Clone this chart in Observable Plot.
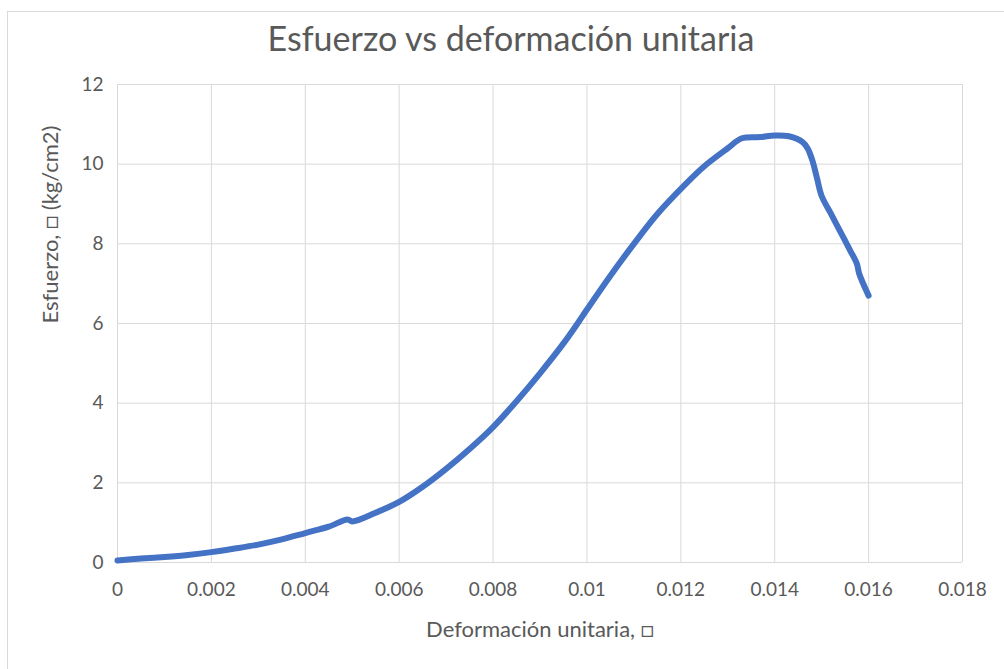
<!DOCTYPE html>
<html>
<head>
<meta charset="utf-8">
<script src="https://cdn.jsdelivr.net/npm/d3@7"></script>
<script src="https://cdn.jsdelivr.net/npm/@observablehq/plot@0.6"></script>
<style>
  html, body { margin: 0; padding: 0; background: #fff; overflow: hidden; }
  #wrap { position: relative; width: 1004px; height: 669px; overflow: hidden; font-family: Lato, "Open Sans", sans-serif; }
  #border { position: absolute; left: 7px; top: 11px; width: 1020px; height: 700px; border: 1px solid #d9d9d9; box-sizing: border-box; }
  #title { position: absolute; left: 0; top: 16px; width: 1022px; text-align: center; font-size: 34px; color: #595959; line-height: 44px; }
  #chart { position: absolute; left: 0; top: 60px; }
</style>
</head>
<body>
<div id="wrap">
  <div id="border"></div>
  <div id="title">Esfuerzo vs deformación unitaria</div>
  <div id="chart"></div>
</div>
<script>
const strain = [0, 0.0005, 0.001, 0.0015, 0.002, 0.0025, 0.003, 0.0035, 0.004, 0.0045, 0.0049, 0.005, 0.0055, 0.006, 0.0065, 0.007, 0.0075, 0.008, 0.0085, 0.009, 0.0095, 0.0098, 0.01, 0.0105, 0.011, 0.0115, 0.0121, 0.0125, 0.013, 0.0133, 0.0137, 0.014, 0.0143, 0.0146, 0.0147, 0.0148, 0.0149, 0.015, 0.0152, 0.0154, 0.0156, 0.01575, 0.0158, 0.016];
const stress = [0.05, 0.1, 0.14, 0.19, 0.26, 0.35, 0.45, 0.58, 0.74, 0.9, 1.08, 1.03, 1.25, 1.52, 1.9, 2.35, 2.85, 3.4, 4.05, 4.75, 5.5, 6.0, 6.35, 7.2, 8.0, 8.75, 9.5, 9.95, 10.4, 10.65, 10.68, 10.72, 10.7, 10.55, 10.4, 10.1, 9.65, 9.2, 8.75, 8.3, 7.85, 7.5, 7.25, 6.7];
const xTicks = [0, 0.002, 0.004, 0.006, 0.008, 0.01, 0.012, 0.014, 0.016, 0.018];
const xTickLabels = ["0", "0.002", "0.004", "0.006", "0.008", "0.01", "0.012", "0.014", "0.016", "0.018"];
const yTicks = [0, 2, 4, 6, 8, 10, 12];
const title = "Esfuerzo vs deformación unitaria";
const xLabel = "Deformación unitaria, \u25A1";
const yLabel = "Esfuerzo, \u25A1 (kg/cm2)";

const data = strain.map((x, i) => ({x, y: stress[i]}));

const chart = Plot.plot({
  width: 1004,
  height: 609,
  marginLeft: 117,
  marginRight: 42,
  marginTop: 24,
  marginBottom: 107,
  style: {fontFamily: "Lato, 'Open Sans', sans-serif", fontSize: "19px", color: "#595959", background: "transparent"},
  x: {domain: [0, 0.018]},
  y: {domain: [0, 12]},
  marks: [
    Plot.gridX(xTicks, {stroke: "#d9d9d9", strokeOpacity: 1, strokeWidth: 1}),
    Plot.gridY(yTicks, {stroke: "#d9d9d9", strokeOpacity: 1, strokeWidth: 1}),
    Plot.axisX(xTicks, {tickSize: 0, tickPadding: 20, label: null, tickFormat: (d) => xTickLabels[xTicks.indexOf(d)], fill: "#595959", fontSize: 19}),
    Plot.axisY(yTicks, {tickSize: 0, tickPadding: 14, label: null, fill: "#595959", fontSize: 19}),
    Plot.text([xLabel], {frameAnchor: "bottom", dy: 74, fill: "#595959", fontSize: 22}),
    Plot.text([yLabel], {frameAnchor: "left", dx: -67, rotate: -90, fill: "#595959", fontSize: 22}),
    Plot.line(data, {x: "x", y: "y", stroke: "#4472C4", strokeWidth: 6, curve: "catmull-rom", strokeLinecap: "round", strokeLinejoin: "round"})
  ]
});
document.getElementById("chart").appendChild(chart);
</script>
</body>
</html>
